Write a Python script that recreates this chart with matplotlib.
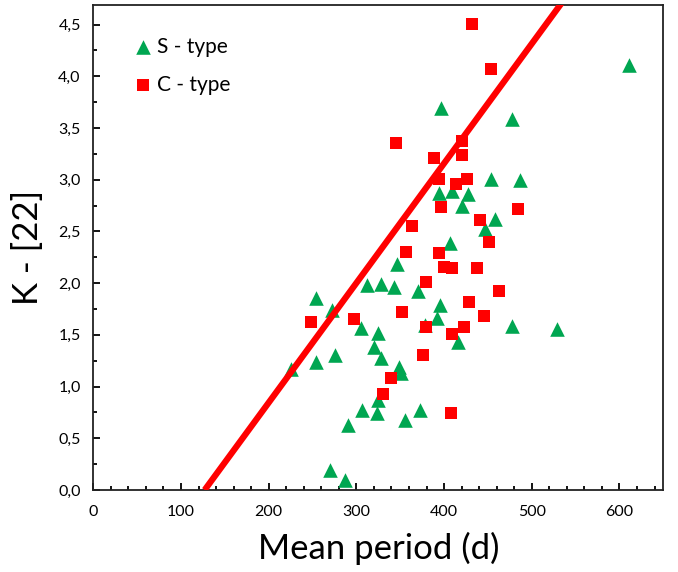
import matplotlib
matplotlib.use("Agg")
import matplotlib.pyplot as plt
from matplotlib.ticker import MultipleLocator, FuncFormatter

plt.rcParams['font.family'] = ['Lato', 'DejaVu Sans']

# S - type (green triangles)
s_period = [611, 397, 478, 454, 487, 394, 409, 427, 421, 458, 447, 407,
            346, 312, 328, 343, 370, 395, 392, 272, 254, 305, 325, 320,
            328, 349, 351, 226, 254, 276, 378, 416, 477, 529, 325, 306,
            323, 373, 355, 291, 270, 287]
s_k22 = [4.11, 3.69, 3.59, 3.01, 3.00, 2.87, 2.89, 2.86, 2.75, 2.62, 2.52, 2.39,
         2.19, 1.98, 1.99, 1.96, 1.92, 1.79, 1.66, 1.74, 1.86, 1.57, 1.52, 1.38,
         1.28, 1.19, 1.13, 1.17, 1.24, 1.31, 1.60, 1.43, 1.59, 1.56, 0.87, 0.77,
         0.74, 0.77, 0.68, 0.63, 0.19, 0.10]

# C - type (red squares)
c_period = [432, 453, 345, 420, 389, 420, 394, 426, 414, 397, 484, 441,
            451, 364, 357, 394, 400, 409, 438, 379, 463, 429, 352, 446,
            297, 248, 379, 423, 409, 376, 340, 330, 408]
c_k22 = [4.51, 4.07, 3.36, 3.37, 3.21, 3.24, 3.01, 3.01, 2.96, 2.74, 2.72, 2.61,
         2.40, 2.55, 2.30, 2.29, 2.16, 2.15, 2.15, 2.01, 1.92, 1.82, 1.72, 1.68,
         1.65, 1.62, 1.58, 1.58, 1.51, 1.31, 1.08, 0.93, 0.74]

# red reference line
line_x = [127, 535]
line_y = [0.0, 4.72]

fig = plt.figure(figsize=(6.78, 5.72), dpi=100)
ax = fig.add_axes([0.1376, 0.1434, 0.8407, 0.8479])

ax.plot(line_x, line_y, color='#FF0000', lw=4.5, solid_capstyle='butt', zorder=3)
ax.scatter(s_period, s_k22, marker='^', s=110, color='#00A651', linewidths=0,
           label='S - type', zorder=2)
ax.scatter(c_period, c_k22, marker='s', s=68, color='#FF0000', linewidths=0,
           label='C - type', zorder=2)

ax.set_xlim(0, 650)
ax.set_ylim(0, 4.69)
ax.xaxis.set_major_locator(MultipleLocator(100))
ax.xaxis.set_minor_locator(MultipleLocator(20))
ax.yaxis.set_major_locator(MultipleLocator(0.5))
ax.yaxis.set_minor_locator(MultipleLocator(0.25))
ax.yaxis.set_major_formatter(FuncFormatter(lambda v, p: f"{v:.1f}".replace('.', ',')))

ax.tick_params(which='both', direction='in', labelsize=11.5, width=1.3)
ax.tick_params(which='major', length=5)
ax.tick_params(axis='x', which='major', pad=11)
ax.tick_params(axis='y', which='major', pad=9)
ax.tick_params(which='minor', length=3)
for sp in ax.spines.values():
    sp.set_linewidth(1.3)
    sp.set_color('#222222')

ax.set_xlabel('Mean period (d)', fontsize=25, labelpad=9)
ax.set_ylabel('K - [22]', fontsize=25, labelpad=10)

ax.legend(loc='upper left', bbox_to_anchor=(0.035, 0.973), frameon=False,
          fontsize=15, handletextpad=0.1, handlelength=1.1, labelspacing=0.85)

fig.savefig('out.png', dpi=100)
